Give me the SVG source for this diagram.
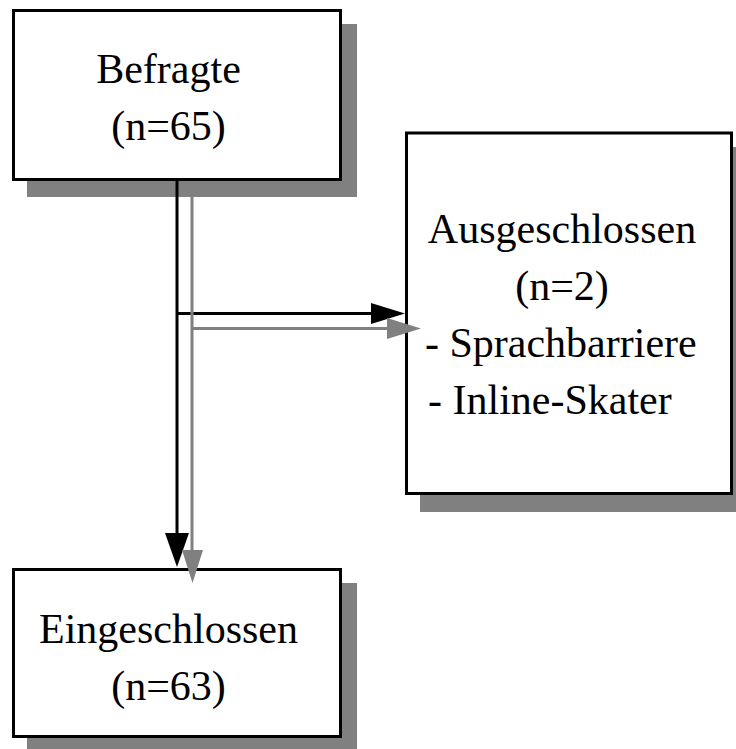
<svg xmlns="http://www.w3.org/2000/svg" width="736" height="749" viewBox="0 0 736 749">
<style>
.shadow{fill:#808080;stroke:none}
.box{fill:#ffffff;stroke:#000000;stroke-width:3}
.t{font-family:"Liberation Serif","Times New Roman",serif;font-size:42px;fill:#000000}
.c{text-anchor:middle}
.blk{stroke:#000000;stroke-width:3;fill:none}
.gry{stroke:#808080;stroke-width:3;fill:none}
</style>
<rect width="736" height="749" fill="#ffffff"/>
<g id="befragte">
<rect class="shadow" x="27" y="24" width="330" height="173"/>
<rect class="box" x="13.5" y="10.5" width="327" height="169"/>
<text class="t c" x="168.5" y="83">Befragte</text>
<text class="t c" x="168.5" y="140">(n=65)</text>
</g>
<g id="ausgeschlossen">
<rect class="shadow" x="420" y="147" width="330" height="365"/>
<rect class="box" x="406.5" y="133" width="325" height="360.5"/>
<text class="t c" x="562" y="243">Ausgeschlossen</text>
<text class="t c" x="562" y="300">(n=2)</text>
<text class="t" x="425" y="357">- Sprachbarriere</text>
<text class="t" x="428" y="414">- Inline-Skater</text>
</g>
<g id="eingeschlossen">
<rect class="shadow" x="27" y="583" width="330" height="170"/>
<rect class="box" x="13.5" y="569.5" width="327" height="167"/>
<text class="t c" x="168.5" y="643">Eingeschlossen</text>
<text class="t c" x="168.5" y="700">(n=63)</text>
</g>
<g id="connectors">
<path class="blk" d="M177,180 V536"/>
<polygon fill="#000000" points="165,533 189,533 177,567"/>
<path class="blk" d="M177,313.5 H374"/>
<polygon fill="#000000" points="371,303 371,324 405,313.5"/>
<path class="gry" d="M192,196 V553"/>
<polygon fill="#808080" points="182,550 203,550 192.5,583"/>
<path class="gry" d="M192,328.5 H390"/>
<polygon fill="#808080" points="387,318 387,339 421,328.5"/>
</g>
</svg>
